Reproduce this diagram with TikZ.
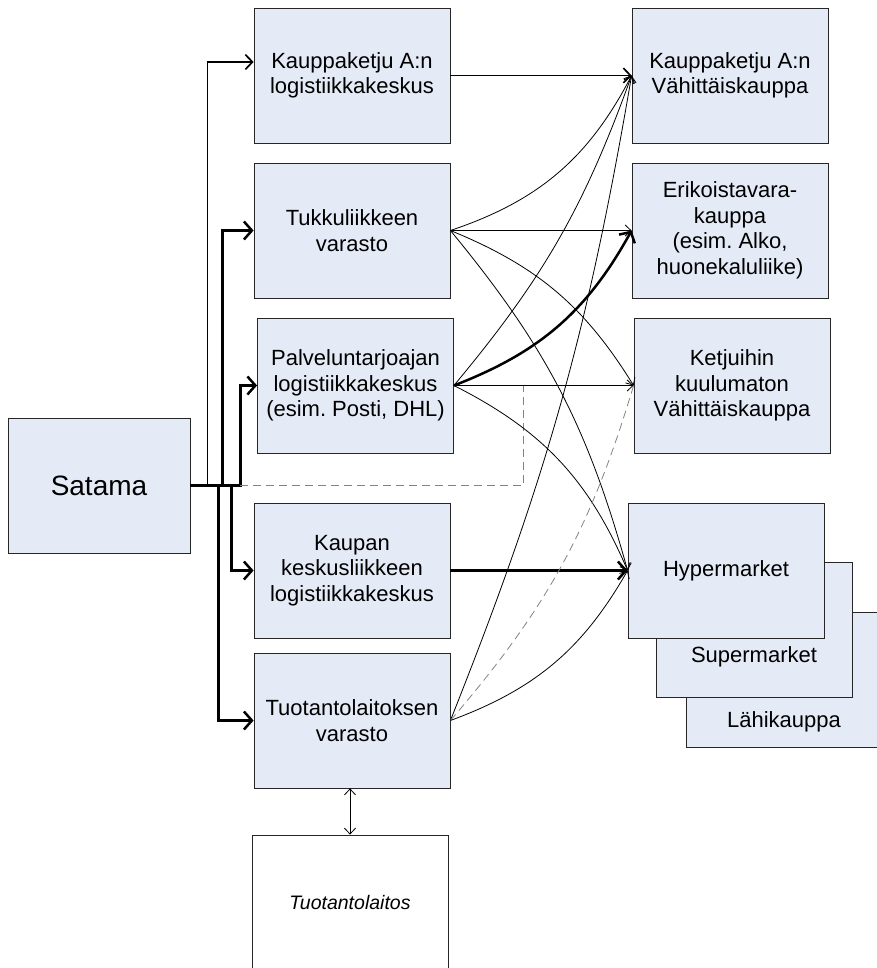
\documentclass[tikz,border=0pt]{standalone}
\usepackage{fontspec}
\setmainfont{Liberation Sans}
\usetikzlibrary{arrows.meta}
\definecolor{boxfill}{RGB}{229,235,246}
\definecolor{dashgray}{RGB}{130,130,130}
\frenchspacing
\begin{document}
\begin{tikzpicture}[x=1pt, y=-1pt,
    >={Straight Barb[length=5pt 1.2, width=8pt 4]},
    box/.style={draw=black!85, line width=0.8pt, fill=boxfill, minimum width=196pt,
      minimum height=135pt, inner sep=0pt, align=center,
      font=\fontsize{22}{25.5}\selectfont},
    link/.style={line width=0.8pt},
    midlink/.style={line width=1.7pt},
    heavy/.style={line width=2.5pt},
    dashlink/.style={line width=0.8pt, draw=dashgray, dash pattern=on 8pt off 5pt}]
  \clip (0,0) rectangle (877,968);
  \node[box, minimum width=182pt, font=\fontsize{28}{32}\selectfont] (satama) at (99,485.5) {Satama};
  \node[box] (klog) at (352,75.5) {Kauppaketju A:n\\logistiikkakeskus};
  \node[box] (tukku) at (352,230.5) {Tukkuliikkeen\\varasto};
  \node[box] (palv) at (355.5,385.5) {Palveluntarjoajan\\logistiikkakeskus\\(esim. Posti, DHL)};
  \node[box] (kesk) at (352,570.5) {Kaupan\\keskusliikkeen\\logistiikkakeskus};
  \node[box] (tvar) at (352,720.5) {Tuotantolaitoksen\\varasto};
  \node[box, fill=white, font=\fontsize{19.5}{23}\selectfont\itshape] (tlait) at (350,902.5) {Tuotantolaitos};
  \node[box] (kvah) at (730,75.5) {Kauppaketju A:n\\Vähittäiskauppa};
  \node[box] (erik) at (730,230.5) {Erikoistavara-\\kauppa\\(esim. Alko,\\huonekaluliike)};
  \node[box] (ketju) at (732,385.5) {Ketjuihin\\kuulumaton\\Vähittäiskauppa};
  \node[box] (lahi) at (784,680) {};
  \node[font=\fontsize{22}{25.5}\selectfont] (lahit) at ([yshift=-42pt]lahi.center) {Lähikauppa};
  \node[box] (super) at (754,630) {};
  \node[font=\fontsize{22}{25.5}\selectfont] (supert) at ([yshift=-27pt]super.center) {Supermarket};
  \node[box] (hyper) at (726,570.5) {Hypermarket};

  \draw[midlink,->] (satama.east) -- ++(17,0) |- ([yshift=13.5pt]klog.west);
  \draw[heavy,->] (satama.east) -- ++(32,0) |- (tukku.west);
  \draw[heavy,->] (satama.east) -- ++(50,0) |- (palv.west);
  \draw[heavy,->] (satama.east) -- ++(41,0) |- (kesk.west);
  \draw[heavy,->] (satama.east) -- ++(28,0) |- (tvar.west);
  \draw[dashlink] (satama.east) ++(50,0) -- ++(283,0) |- (ketju.west);

  \draw[midlink,->] (klog) -- (kvah);
  \draw[link,->] (tukku.east) to[bend right=22] (kvah.west);
  \draw[link,->] (tukku) -- (erik);
  \draw[link,->] (tukku.east) to[bend left=18] (ketju.west);
  \draw[link,->] (tukku.east) to[bend left=12] (hyper.west);
  \draw[link,->] (palv.east) to[bend right=10] (kvah.west);
  \draw[heavy,->] (palv.east) to[bend right=20] (erik.west);
  \draw[link,->] (palv) -- (ketju);
  \draw[link,->] (palv.east) to[bend left=20] (hyper.west);
  \draw[heavy,->] (kesk) -- (hyper);
  \draw[link,->] (tvar.east) to[bend right=6] (kvah.west);
  \draw[dashlink] (tvar.east) to[bend right=12] (ketju.west);
  \draw[link,->] (tvar.east) to[bend right=20] (hyper.west);
  \draw[link,<->] (tlait.north |- tvar.south) -- (tlait.north);
\end{tikzpicture}
\end{document}
